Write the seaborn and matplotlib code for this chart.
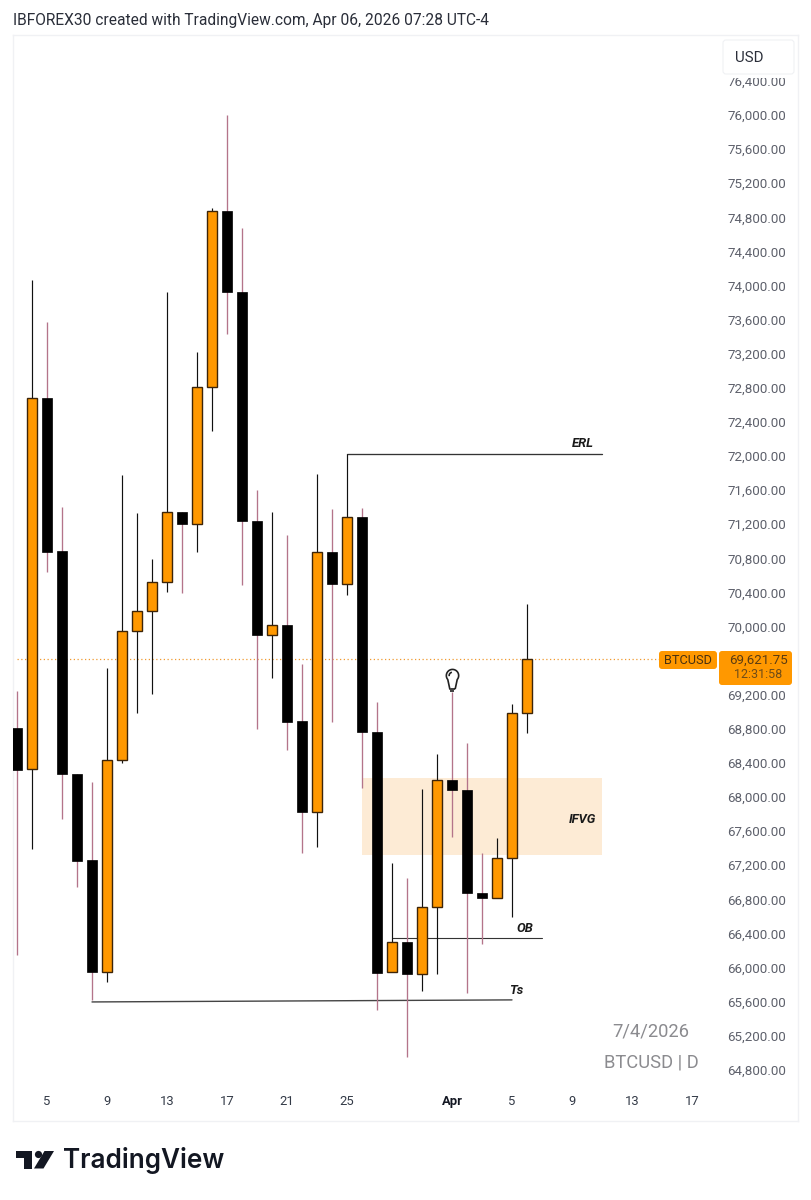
import matplotlib
matplotlib.use("Agg")
import matplotlib.pyplot as plt
import numpy as np
import pandas as pd
import seaborn as sns
from matplotlib.patches import Circle, FancyBboxPatch, Polygon, Rectangle
from matplotlib.path import Path
from matplotlib.transforms import Affine2D

# Daily BTCUSD candles; day numbers count on from 1 March (32 = 1 April)
days = list(range(3, 38))
opens = [68810, 68329, 72680, 70886, 68270, 67261, 65947, 68434, 69947, 70182,
         70522, 71343, 71202, 72809, 74874, 73924, 71238, 69900, 70018, 68892,
         67824, 70874, 70499, 71285, 68763, 65947, 66299, 65924, 66710, 68200,
         68082, 66874, 66815, 67285, 68985]
closes = [68317, 72680, 70874, 68270, 67249, 65947, 68434, 69947, 70182, 70522,
          71343, 71202, 72809, 74874, 73924, 71238, 69900, 70018, 68880, 67824,
          70874, 70499, 71285, 68763, 65936, 66299, 65924, 66710, 68200, 68082,
          66874, 66815, 67285, 68985, 69621.75]
highs = [69244, 74065, 73572, 71402, 68270, 68176, 69513, 71777, 71331, 70792,
         73924, 71343, 73220, 74909, 76000, 74675, 71601, 71343, 71073, 69560,
         71789, 71378, 72024, 71390, 69114, 67226, 67050, 68094, 68505, 69232,
         68634, 67343, 67519, 69091, 70264]
lows = [66147, 67390, 70639, 67742, 66944, 65619, 65830, 68399, 68985, 69208,
        70405, 70393, 70874, 72293, 73431, 70487, 68798, 69396, 68551, 67343,
        67414, 68880, 70370, 68106, 65502, 65947, 64950, 65725, 65924, 67531,
        65701, 66276, 66815, 66593, 68751]

price_ticks = list(range(64800, 76800, 400))
day_ticks = [5, 9, 13, 17, 21, 25, 32, 36, 40, 44, 48]
day_labels = ["5", "9", "13", "17", "21", "25", "Apr", "5", "9", "13", "17"]

last_price = 69621.75
last_day = 37

# Analyst annotations: (day, price) endpoints
erl_days, erl_price = [25, 42], [72024, 72024]
ob_days, ob_price = [28, 38], [66346, 66346]
ts_days, ts_price = [8, 36], [65596, 65620]
ifvg_days, ifvg_low, ifvg_high = [26, 42], 67320, 68220
idea_day, idea_price = 32, 69232

ORANGE = "#ff9800"
ROSE = "#b4748a"
EDGE = "#3d2408"
TEXT = "#333a47"
BORDER = "#f0f1f4"

W, H = 811, 1200
sns.set_theme(style="white")
plt.rcParams["font.family"] = ["Roboto", "DejaVu Sans"]

fig = plt.figure(figsize=(W / 100, H / 100), dpi=100, facecolor="white")
# Panel spans pixels x 13..798, y 35..1121
ax = fig.add_axes([13 / W, 1 - 1121 / H, (798 - 13) / W, (1121 - 35) / H])

candles = pd.DataFrame({"day": days, "open": opens, "close": closes,
                        "high": highs, "low": lows})
candles["up"] = candles["close"] > candles["open"]
candles["top"] = candles[["open", "close"]].max(axis=1)
candles["bottom"] = candles[["open", "close"]].min(axis=1)
candles["span"] = candles["top"] - candles["bottom"]

up = candles[candles["up"]]
down = candles[~candles["up"]]

# Annotation zone and lines sit under the candles
ax.add_patch(Rectangle((ifvg_days[0], ifvg_low), ifvg_days[1] - ifvg_days[0],
                       ifvg_high - ifvg_low, facecolor="#fdebd5", edgecolor="none", zorder=1))
ax.plot(erl_days, erl_price, color="#333333", lw=0.95, zorder=1.5)
ax.plot(ob_days, ob_price, color="#333333", lw=0.8, zorder=1.5)
ax.plot(ts_days, ts_price, color="#444444", lw=1.0, zorder=1.5)

# Last-price guide running up to the symbol tag
ax.plot([3, 45.8], [last_price, last_price], color="#f09a30", lw=0.9,
        ls=(0, (1, 2)), zorder=1.8)

# Wicks: rose on falling days, black on rising days
ax.vlines(down["day"], down["low"], down["high"], color=ROSE, lw=0.95, zorder=2)
ax.vlines(up["day"], up["low"], up["high"], color="#111111", lw=0.85, zorder=2)

# Candle bodies
sns.barplot(data=down, x="day", y="span", bottom=down["bottom"].values, native_scale=True,
            width=0.72, color="black", saturation=1, edgecolor="black", linewidth=0.5,
            errorbar=None, ax=ax, zorder=3)
sns.barplot(data=up, x="day", y="span", bottom=up["bottom"].values, native_scale=True,
            width=0.68, color=ORANGE, saturation=1, edgecolor=EDGE, linewidth=1.0,
            errorbar=None, ax=ax, zorder=3)


def bulb_marker():
    """Light-bulb outline with a small inner glint, centred on the origin."""
    angles = np.radians(np.linspace(-40, 220, 40))
    shell = np.column_stack([5.5 * np.cos(angles), 3.5 + 5.5 * np.sin(angles)])
    shell = np.vstack([[2.4, -8.5], shell, [-2.4, -8.5], [2.4, -8.5]])
    glint_angles = np.radians(np.linspace(100, 190, 8))
    glint = np.column_stack([3.0 * np.cos(glint_angles), 3.5 + 3.0 * np.sin(glint_angles)])
    return Path.make_compound_path(Path(shell), Path(glint))


# Idea marker above the 1 April wick
ax.plot([idea_day], [idea_price + 150], marker=bulb_marker(), ms=14.5, mfc="none",
        mec="#222222", mew=1.2, zorder=4)
ax.plot([idea_day], [idea_price + 28], marker="s", ms=3.4, color="#444444", mew=0, zorder=4)

note_style = dict(fontsize=9.4, fontweight="bold", fontstyle="italic", color="#1a1a1a",
                  ha="center", va="center", zorder=5)
ax.text(40.73, 72145, "ERL", **note_style)
ax.text(40.67, 67735, "IFVG", **note_style)
ax.text(36.87, 66463, "OB", **note_style)
ax.text(36.27, 65736, "Ts", **note_style)

wm = dict(fontsize=13.2, color="#8b8b8f", ha="center", va="center", zorder=0.5)
ax.text(45.27, 65245, "7/4/2026", **wm)
ax.text(45.27, 64880, "BTCUSD | D", **wm)

# Scales: 15 px per day, 34.1 px per 400 USD
ax.set_xlim(5 + (13 - 47) / 15, 5 + (798 - 47) / 15)
ax.set_ylim(76000 - (1121 - 115) * 400 / 34.1, 76000 + (115 - 35) * 400 / 34.1)

ax.yaxis.tick_right()
ax.set_yticks(price_ticks, [f"{p:,.2f}" for p in price_ticks])
ax.tick_params(axis="y", length=0, pad=-8.6, labelsize=9.6, labelcolor="#5d606b")
plt.setp(ax.get_yticklabels(), ha="right")
ax.set_xticks(day_ticks, day_labels)
ax.tick_params(axis="x", length=0, pad=-19, labelsize=9.4, labelcolor=TEXT)
for lab in ax.get_xticklabels():
    if lab.get_text() == "Apr":
        lab.set_fontweight("bold")
        lab.set_color("#131722")
ax.set_xlabel("")
ax.set_ylabel("")
ax.grid(False)
for spine in ax.spines.values():
    spine.set_color(BORDER)
    spine.set_linewidth(1.0)

# Overlay elements placed in pixel space, y measured from the top edge
px = Affine2D().scale(1, -1).translate(0, H)


def tag(x0, y0, x1, y1, face, edge="none"):
    fig.add_artist(FancyBboxPatch((x0, y0), x1 - x0, y1 - y0, boxstyle="round,pad=0,rounding_size=3",
                                  facecolor=face, edgecolor=edge, lw=0.8, transform=px, zorder=6))


# Currency button, with a white halo that trims the top price label
fig.add_artist(Rectangle((722, 72), 74, 6, facecolor="white", edgecolor="none", transform=px, zorder=5))
tag(723, 40, 794, 74, "white", "#f0f1f4")
fig.text(749 / W, 1 - 57.5 / H, "USD", fontsize=10.8, color="#2a2e39", ha="center", va="center", zorder=7)

tag(659, 651, 717, 669, ORANGE)
tag(719, 651, 792, 685, ORANGE)
fig.text(688 / W, 1 - 661 / H, "BTCUSD", fontsize=9.2, color="#4a3210", ha="center", va="center", zorder=7)
fig.text(758 / W, 1 - 660 / H, f"{last_price:,.2f}", fontsize=9.6, color="#5a3c12", ha="center", va="center", zorder=7)
fig.text(758 / W, 1 - 675 / H, "12:31:58", fontsize=9.0, color="#6e4c18", ha="center", va="center", zorder=7)

fig.text(13 / W, 1 - 20 / H, "IBFOREX30 created with TradingView.com, Apr 06, 2026 07:28 UTC-4",
         fontsize=11.17, color="#2a2e39", ha="left", va="center")

# Wordmark and logo
logo = "#131722"
fig.add_artist(Polygon([(16, 1151), (32, 1151), (32, 1168.5), (24, 1168.5), (24, 1158), (16, 1158)],
                       closed=True, facecolor=logo, edgecolor="none", transform=px))
fig.add_artist(Circle((38.5, 1154.5), 3.6, facecolor=logo, edgecolor="none", transform=px))
fig.add_artist(Polygon([(44.5, 1151), (54, 1151), (43.5, 1168.5), (34, 1168.5)],
                       closed=True, facecolor=logo, edgecolor="none", transform=px))
fig.text(63.5 / W, 1 - 1161 / H, "TradingView", fontsize=18.8, fontweight="semibold", family="Inter",
         color=logo, ha="left", va="center")

fig.savefig("out.png", dpi=100, facecolor="white")
